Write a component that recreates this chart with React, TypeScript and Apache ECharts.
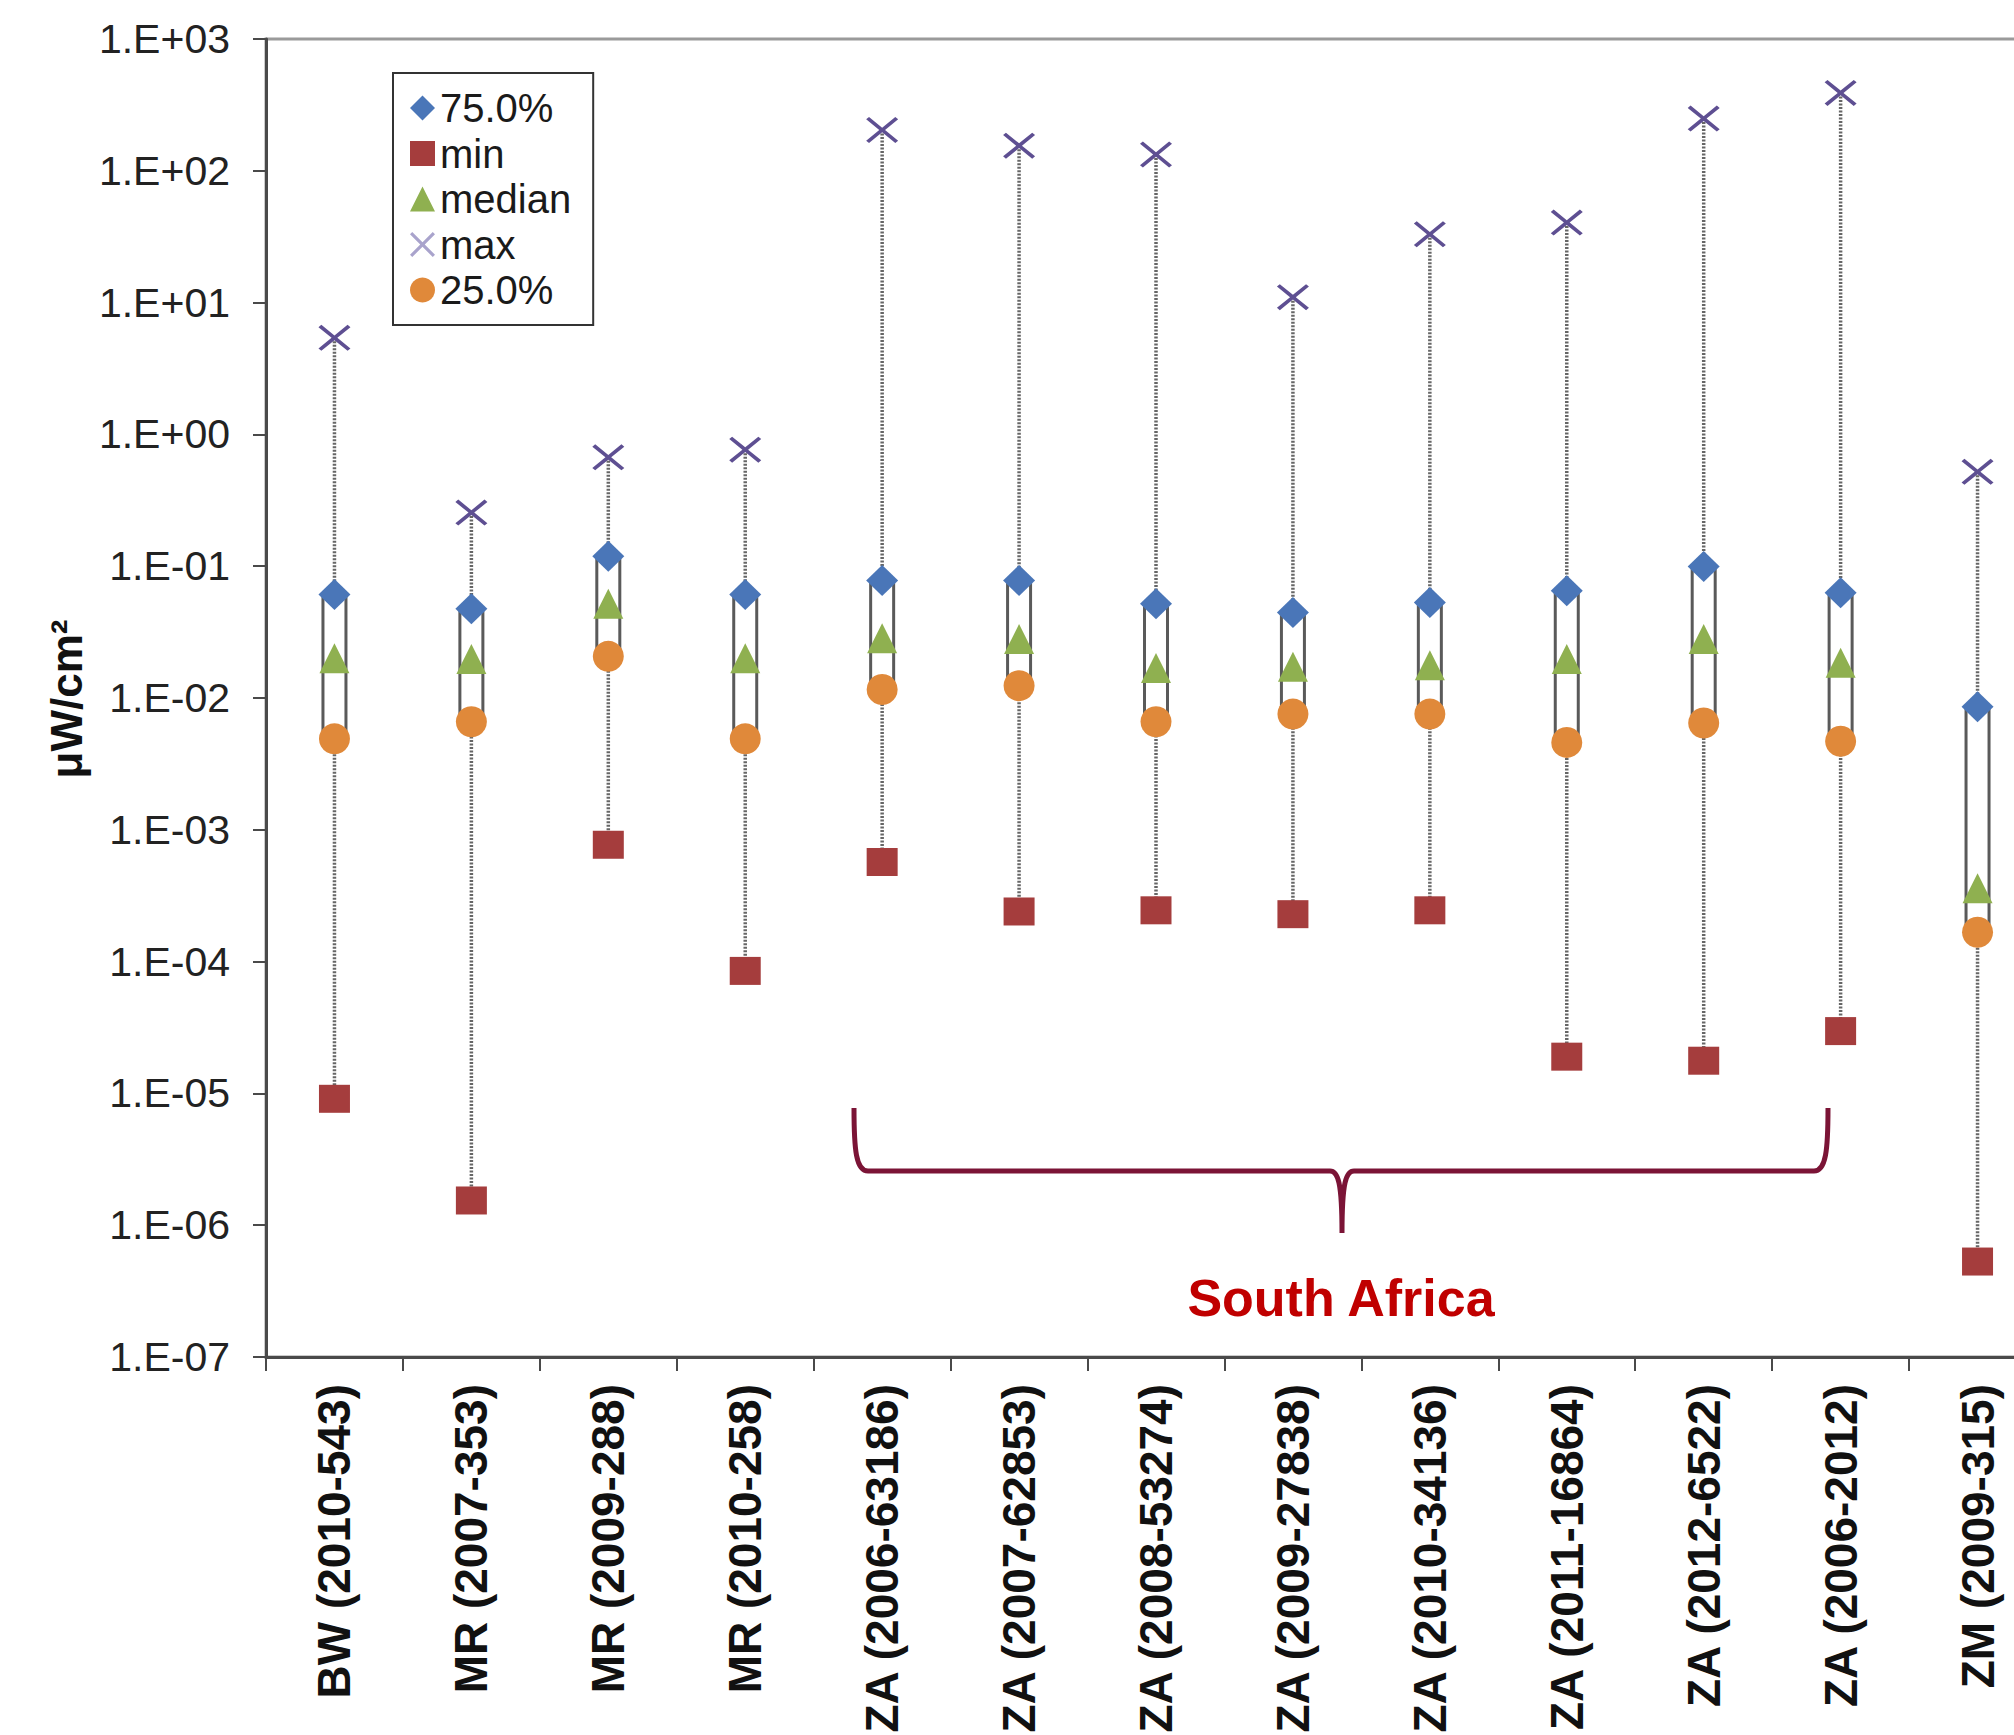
import React, { useEffect, useRef } from "react";
import * as echarts from "echarts";

const categories = [
  "BW (2010-543)",
  "MR (2007-353)",
  "MR (2009-288)",
  "MR (2010-258)",
  "ZA (2006-63186)",
  "ZA (2007-62853)",
  "ZA (2008-53274)",
  "ZA (2009-27838)",
  "ZA (2010-34136)",
  "ZA (2011-16864)",
  "ZA (2012-6522)",
  "ZA (2006-2012)",
  "ZM (2009-315)",
];

const maxValues = [5.4, 0.255, 0.67, 0.766, 204, 155, 133, 11.0, 33, 40.5, 249, 390, 0.52];
const p75Values = [0.061, 0.0475, 0.119, 0.061, 0.078, 0.078, 0.052, 0.0445, 0.053, 0.065, 0.0995, 0.063, 0.0086];
const medianValues = [0.02, 0.0198, 0.052, 0.02, 0.0284, 0.028, 0.0169, 0.0173, 0.0177, 0.0198, 0.028, 0.0185, 0.00036];
const p25Values = [0.0049, 0.0066, 0.0207, 0.0049, 0.0116, 0.0124, 0.0066, 0.00755, 0.00755, 0.0046, 0.00646, 0.0047, 0.000167];
const minValues = [9.1e-6, 1.54e-6, 7.7e-4, 8.5e-5, 5.7e-4, 2.4e-4, 2.45e-4, 2.29e-4, 2.45e-4, 1.9e-5, 1.77e-5, 2.97e-5, 5.3e-7];

const yTickLabels = ["1.E-07", "1.E-06", "1.E-05", "1.E-04", "1.E-03", "1.E-02", "1.E-01", "1.E+00", "1.E+01", "1.E+02", "1.E+03"];

const groupLabel = "South Africa";
const yAxisTitle = "μW/cm²";

const FONT = "'Liberation Sans', Arial, Helvetica, sans-serif";

const X_PATH =
  "path://M0,0.9 L0.9,0 L5,4.1 L9.1,0 L10,0.9 L5.9,5 L10,9.1 L9.1,10 L5,5.9 L0.9,10 L0,9.1 L4.1,5 Z";

const BRACE_D =
  "M854,1108 C854,1150 856,1171 868,1171 L1330,1171 C1338,1171 1342,1182 1342,1233 C1342,1182 1346,1171 1354,1171 L1814,1171 C1826,1171 1828,1150 1828,1108";

echarts.graphic.registerShape("brace", echarts.graphic.extendPath(BRACE_D, {}));

export default function App() {
  const ref = useRef<HTMLDivElement>(null);

  useEffect(() => {
    if (!ref.current) return;
    const chart = echarts.init(ref.current, undefined, { renderer: "svg" });

    const boxData = categories.map((_, i) => [i, minValues[i], p25Values[i], p75Values[i], maxValues[i]]);

    const option: any = {
      animation: false,
      backgroundColor: "#ffffff",
      grid: {
        left: 266,
        top: 39,
        width: 1780,
        height: 1318,
        show: true,
        borderColor: "#9a9a9a",
        borderWidth: 3,
        backgroundColor: "transparent",
        containLabel: false,
        outerBoundsMode: "none",
      },
      legend: {
        orient: "vertical",
        left: 393,
        top: 73,
        padding: [15, 22, 15, 17],
        borderColor: "#333",
        borderWidth: 2,
        backgroundColor: "#fff",
        itemWidth: 25,
        itemHeight: 25,
        itemGap: 5.5,
        textStyle: { fontSize: 40, fontFamily: FONT, color: "#1a1a1a", lineHeight: 40 },
        data: [
          { name: "75.0%" },
          { name: "min" },
          { name: "median" },
          { name: "max", itemStyle: { color: "#a9a3cc" } },
          { name: "25.0%" },
        ],
      },
      xAxis: {
        type: "category",
        data: categories,
        boundaryGap: true,
        axisLine: { lineStyle: { color: "#4a4a4a", width: 3 } },
        axisTick: { show: true, length: 14, lineStyle: { color: "#4a4a4a", width: 2 } },
        axisLabel: {
          interval: 0,
          rotate: 90,
          margin: 27,
          fontSize: 46,
          fontWeight: "bold",
          fontFamily: FONT,
          color: "#111",
        },
        splitLine: { show: false },
      },
      yAxis: {
        type: "log",
        logBase: 10,
        min: 1e-7,
        max: 1e3,
        interval: 1,
        splitNumber: 10,
        axisLine: { show: true, lineStyle: { color: "#4a4a4a", width: 3 } },
        axisTick: { show: true, length: 13, lineStyle: { color: "#4a4a4a", width: 2 } },
        axisLabel: {
          margin: 36,
          fontSize: 41,
          fontFamily: FONT,
          color: "#222",
          hideOverlap: false,
          formatter: (v: number) => {
            const e = Math.round(Math.log10(v));
            return yTickLabels[e + 7] ?? "";
          },
        },
        splitLine: { show: false },
        minorTick: { show: false },
      },
      series: [
        {
          type: "custom",
          name: "box",
          data: boxData,
          encode: { x: 0, y: [1, 2, 3, 4] },
          silent: true,
          renderItem: (params: any, api: any) => {
            const i = api.value(0);
            const pMin = api.coord([i, api.value(1)]);
            const p25 = api.coord([i, api.value(2)]);
            const p75 = api.coord([i, api.value(3)]);
            const pMax = api.coord([i, api.value(4)]);
            const w = 23;
            return {
              type: "group",
              children: [
                {
                  type: "line",
                  shape: { x1: pMax[0], y1: pMax[1], x2: pMin[0], y2: pMin[1] },
                  style: { stroke: "#666666", lineWidth: 3.5, lineDash: [2, 1.5] },
                },
                {
                  type: "rect",
                  shape: { x: p75[0] - w / 2, y: p75[1], width: w, height: p25[1] - p75[1] },
                  style: { fill: "#ffffff", stroke: "#5a5a5a", lineWidth: 3 },
                },
              ],
            };
          },
        },
        {
          type: "scatter",
          name: "25.0%",
          symbol: "circle",
          symbolSize: 31,
          itemStyle: { color: "#e0893a", opacity: 1 },
          data: p25Values.map((v, i) => [i, v]),
        },
        {
          type: "scatter",
          name: "median",
          symbol: "triangle",
          symbolSize: [30, 30],
          itemStyle: { color: "#8fb050", opacity: 1 },
          data: medianValues.map((v, i) => [i, v]),
        },
        {
          type: "scatter",
          name: "75.0%",
          symbol: "diamond",
          symbolSize: [32, 31],
          itemStyle: { color: "#4a76b8", opacity: 1 },
          data: p75Values.map((v, i) => [i, v]),
        },
        {
          type: "scatter",
          name: "min",
          symbol: "rect",
          symbolSize: [31, 28],
          itemStyle: { color: "#a53d3d", opacity: 1 },
          data: minValues.map((v, i) => [i, v]),
        },
        {
          type: "scatter",
          name: "max",
          symbol: X_PATH,
          symbolSize: [32, 26],
          symbolKeepAspect: false,
          itemStyle: { color: "#5e4f92", opacity: 1 },
          data: maxValues.map((v, i) => [i, v]),
        },
      ],
      graphic: [
        {
          type: "text",
          x: 66,
          y: 699,
          rotation: Math.PI / 2,
          style: {
            text: yAxisTitle,
            fontSize: 44,
            fontWeight: "bold",
            fontFamily: FONT,
            fill: "#111",
            align: "center",
            verticalAlign: "middle",
          },
        },
        {
          type: "brace",
          x: 0,
          y: 0,
          silent: true,
          style: { fill: "none", stroke: "#7b1436", lineWidth: 5 },
        },
        {
          type: "text",
          x: 1341,
          y: 1298,
          style: {
            text: groupLabel,
            fontSize: 52,
            fontWeight: "bold",
            fontFamily: FONT,
            fill: "#c00000",
            align: "center",
            verticalAlign: "middle",
          },
        },
      ],
    };

    chart.setOption(option);
    return () => {
      chart.dispose();
    };
  }, []);

  return (
    <div
      ref={ref}
      style={{ position: "absolute", left: 0, top: 0, width: 2014, height: 1735, background: "#fff" }}
    />
  );
}
